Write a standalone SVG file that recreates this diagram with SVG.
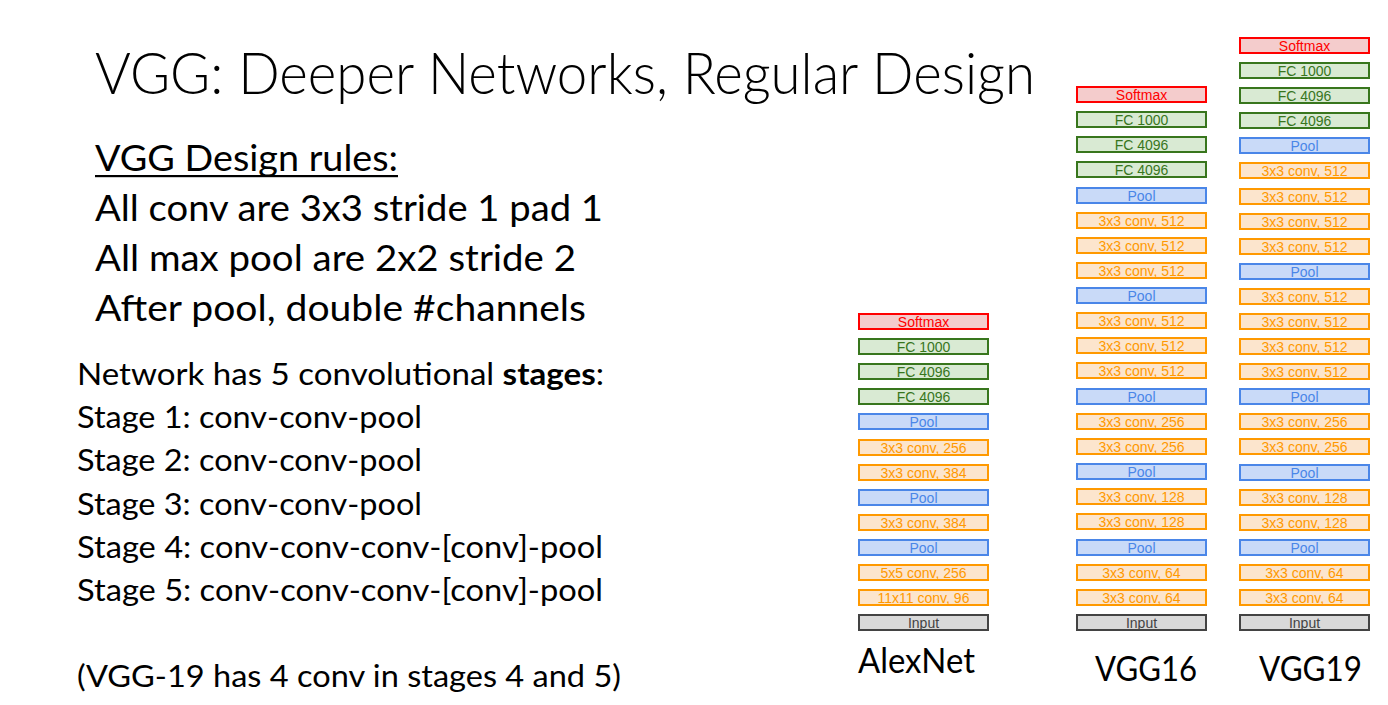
<svg xmlns="http://www.w3.org/2000/svg" width="1388" height="705" viewBox="0 0 1388 705">
<style>
.t{font-family:Lato,"Open Sans","Liberation Sans",sans-serif;fill:#000}
.title{font-size:57px;font-weight:300}
.body{font-size:37px}
.net{font-size:31px}
.lbl{font-size:34px}
.b rect{stroke-width:2}
.b text{font-family:"Liberation Sans",Arial,sans-serif;font-size:14px;text-anchor:middle}
.sm rect{fill:#f4cccc;stroke:#ff0000}.sm text{fill:#ff0000}
.fc rect{fill:#d9ead3;stroke:#38761d}.fc text{fill:#38761d}
.pl rect{fill:#c9daf8;stroke:#4a86e8}.pl text{fill:#4a86e8}
.cv rect{fill:#fce5cd;stroke:#ff9900}.cv text{fill:#ff9900}
.in rect{fill:#d9d9d9;stroke:#434343}.in text{fill:#434343}
</style>
<rect width="1388" height="705" fill="#fff"/>
<g id="text">
<text class="t title" x="95" y="94" textLength="940" lengthAdjust="spacingAndGlyphs">VGG: Deeper Networks, Regular Design</text>
<text class="t body" x="95" y="171" textLength="303" lengthAdjust="spacingAndGlyphs">VGG Design rules:</text>
<rect x="95" y="175" width="303" height="2.2" fill="#000"/>
<text class="t body" x="95" y="221" textLength="508" lengthAdjust="spacingAndGlyphs">All conv are 3x3 stride 1 pad 1</text>
<text class="t body" x="95" y="271" textLength="481" lengthAdjust="spacingAndGlyphs">All max pool are 2x2 stride 2</text>
<text class="t body" x="95" y="321" textLength="491" lengthAdjust="spacingAndGlyphs">After pool, double #channels</text>
<text class="t net" x="77" y="385" textLength="527" lengthAdjust="spacingAndGlyphs">Network has 5 convolutional <tspan font-weight="bold">stages</tspan>:</text>
<text class="t net" x="77" y="428" textLength="345" lengthAdjust="spacingAndGlyphs">Stage 1: conv-conv-pool</text>
<text class="t net" x="77" y="471" textLength="345" lengthAdjust="spacingAndGlyphs">Stage 2: conv-conv-pool</text>
<text class="t net" x="77" y="515" textLength="345" lengthAdjust="spacingAndGlyphs">Stage 3: conv-conv-pool</text>
<text class="t net" x="77" y="558" textLength="526" lengthAdjust="spacingAndGlyphs">Stage 4: conv-conv-conv-[conv]-pool</text>
<text class="t net" x="77" y="601" textLength="526" lengthAdjust="spacingAndGlyphs">Stage 5: conv-conv-conv-[conv]-pool</text>
<text class="t net" x="77" y="687" textLength="544" lengthAdjust="spacingAndGlyphs">(VGG-19 has 4 conv in stages 4 and 5)</text>
<text class="t lbl" x="858" y="673" textLength="117" lengthAdjust="spacingAndGlyphs">AlexNet</text>
<text class="t lbl" x="1095" y="681" textLength="102" lengthAdjust="spacingAndGlyphs">VGG16</text>
<text class="t lbl" x="1259" y="681" textLength="103" lengthAdjust="spacingAndGlyphs">VGG19</text>
</g>
<g id="alexnet" transform="translate(858,0)">
<g id="a0" class="b sm"><rect x="1" y="314" width="129" height="15"/><text x="65.5" y="326.5">Softmax</text></g>
<g id="a1" class="b fc"><rect x="1" y="339" width="129" height="15"/><text x="65.5" y="351.5">FC 1000</text></g>
<g id="a2" class="b fc"><rect x="1" y="364" width="129" height="15"/><text x="65.5" y="376.5">FC 4096</text></g>
<g id="a3" class="b fc"><rect x="1" y="389" width="129" height="15"/><text x="65.5" y="401.5">FC 4096</text></g>
<g id="a4" class="b pl"><rect x="1" y="414" width="129" height="15"/><text x="65.5" y="426.5">Pool</text></g>
<g id="a5" class="b cv"><rect x="1" y="440" width="129" height="15"/><text x="65.5" y="452.5">3x3 conv, 256</text></g>
<g id="a6" class="b cv"><rect x="1" y="465" width="129" height="15"/><text x="65.5" y="477.5">3x3 conv, 384</text></g>
<g id="a7" class="b pl"><rect x="1" y="490" width="129" height="15"/><text x="65.5" y="502.5">Pool</text></g>
<g id="a8" class="b cv"><rect x="1" y="515" width="129" height="15"/><text x="65.5" y="527.5">3x3 conv, 384</text></g>
<g id="a9" class="b pl"><rect x="1" y="540" width="129" height="15"/><text x="65.5" y="552.5">Pool</text></g>
<g id="a10" class="b cv"><rect x="1" y="565" width="129" height="15"/><text x="65.5" y="577.5">5x5 conv, 256</text></g>
<g id="a11" class="b cv"><rect x="1" y="590" width="129" height="15"/><text x="65.5" y="602.5">11x11 conv, 96</text></g>
<g id="a12" class="b in"><rect x="1" y="615" width="129" height="15"/><text x="65.5" y="627.5">Input</text></g>
</g>
<g id="vgg16" transform="translate(1076,0)">
<g id="v0" class="b sm"><rect x="1" y="87" width="129" height="15"/><text x="65.5" y="99.5">Softmax</text></g>
<g id="v1" class="b fc"><rect x="1" y="112" width="129" height="15"/><text x="65.5" y="124.5">FC 1000</text></g>
<g id="v2" class="b fc"><rect x="1" y="137" width="129" height="15"/><text x="65.5" y="149.5">FC 4096</text></g>
<g id="v3" class="b fc"><rect x="1" y="162" width="129" height="15"/><text x="65.5" y="174.5">FC 4096</text></g>
<g id="v4" class="b pl"><rect x="1" y="188" width="129" height="15"/><text x="65.5" y="200.5">Pool</text></g>
<g id="v5" class="b cv"><rect x="1" y="213" width="129" height="15"/><text x="65.5" y="225.5">3x3 conv, 512</text></g>
<g id="v6" class="b cv"><rect x="1" y="238" width="129" height="15"/><text x="65.5" y="250.5">3x3 conv, 512</text></g>
<g id="v7" class="b cv"><rect x="1" y="263" width="129" height="15"/><text x="65.5" y="275.5">3x3 conv, 512</text></g>
<g id="v8" class="b pl"><rect x="1" y="288" width="129" height="15"/><text x="65.5" y="300.5">Pool</text></g>
<g id="v9" class="b cv"><rect x="1" y="313" width="129" height="15"/><text x="65.5" y="325.5">3x3 conv, 512</text></g>
<g id="v10" class="b cv"><rect x="1" y="338" width="129" height="15"/><text x="65.5" y="350.5">3x3 conv, 512</text></g>
<g id="v11" class="b cv"><rect x="1" y="363" width="129" height="15"/><text x="65.5" y="375.5">3x3 conv, 512</text></g>
<g id="v12" class="b pl"><rect x="1" y="389" width="129" height="15"/><text x="65.5" y="401.5">Pool</text></g>
<g id="v13" class="b cv"><rect x="1" y="414" width="129" height="15"/><text x="65.5" y="426.5">3x3 conv, 256</text></g>
<g id="v14" class="b cv"><rect x="1" y="439" width="129" height="15"/><text x="65.5" y="451.5">3x3 conv, 256</text></g>
<g id="v15" class="b pl"><rect x="1" y="464" width="129" height="15"/><text x="65.5" y="476.5">Pool</text></g>
<g id="v16" class="b cv"><rect x="1" y="489" width="129" height="15"/><text x="65.5" y="501.5">3x3 conv, 128</text></g>
<g id="v17" class="b cv"><rect x="1" y="514" width="129" height="15"/><text x="65.5" y="526.5">3x3 conv, 128</text></g>
<g id="v18" class="b pl"><rect x="1" y="540" width="129" height="15"/><text x="65.5" y="552.5">Pool</text></g>
<g id="v19" class="b cv"><rect x="1" y="565" width="129" height="15"/><text x="65.5" y="577.5">3x3 conv, 64</text></g>
<g id="v20" class="b cv"><rect x="1" y="590" width="129" height="15"/><text x="65.5" y="602.5">3x3 conv, 64</text></g>
<g id="v21" class="b in"><rect x="1" y="615" width="129" height="15"/><text x="65.5" y="627.5">Input</text></g>
</g>
<g id="vgg19" transform="translate(1239,0)">
<g id="w0" class="b sm"><rect x="1" y="38" width="129" height="15"/><text x="65.5" y="50.5">Softmax</text></g>
<g id="w1" class="b fc"><rect x="1" y="63" width="129" height="15"/><text x="65.5" y="75.5">FC 1000</text></g>
<g id="w2" class="b fc"><rect x="1" y="88" width="129" height="15"/><text x="65.5" y="100.5">FC 4096</text></g>
<g id="w3" class="b fc"><rect x="1" y="113" width="129" height="15"/><text x="65.5" y="125.5">FC 4096</text></g>
<g id="w4" class="b pl"><rect x="1" y="138" width="129" height="15"/><text x="65.5" y="150.5">Pool</text></g>
<g id="w5" class="b cv"><rect x="1" y="163" width="129" height="15"/><text x="65.5" y="175.5">3x3 conv, 512</text></g>
<g id="w6" class="b cv"><rect x="1" y="189" width="129" height="15"/><text x="65.5" y="201.5">3x3 conv, 512</text></g>
<g id="w7" class="b cv"><rect x="1" y="214" width="129" height="15"/><text x="65.5" y="226.5">3x3 conv, 512</text></g>
<g id="w8" class="b cv"><rect x="1" y="239" width="129" height="15"/><text x="65.5" y="251.5">3x3 conv, 512</text></g>
<g id="w9" class="b pl"><rect x="1" y="264" width="129" height="15"/><text x="65.5" y="276.5">Pool</text></g>
<g id="w10" class="b cv"><rect x="1" y="289" width="129" height="15"/><text x="65.5" y="301.5">3x3 conv, 512</text></g>
<g id="w11" class="b cv"><rect x="1" y="314" width="129" height="15"/><text x="65.5" y="326.5">3x3 conv, 512</text></g>
<g id="w12" class="b cv"><rect x="1" y="339" width="129" height="15"/><text x="65.5" y="351.5">3x3 conv, 512</text></g>
<g id="w13" class="b cv"><rect x="1" y="364" width="129" height="15"/><text x="65.5" y="376.5">3x3 conv, 512</text></g>
<g id="w14" class="b pl"><rect x="1" y="389" width="129" height="15"/><text x="65.5" y="401.5">Pool</text></g>
<g id="w15" class="b cv"><rect x="1" y="414" width="129" height="15"/><text x="65.5" y="426.5">3x3 conv, 256</text></g>
<g id="w16" class="b cv"><rect x="1" y="439" width="129" height="15"/><text x="65.5" y="451.5">3x3 conv, 256</text></g>
<g id="w17" class="b pl"><rect x="1" y="465" width="129" height="15"/><text x="65.5" y="477.5">Pool</text></g>
<g id="w18" class="b cv"><rect x="1" y="490" width="129" height="15"/><text x="65.5" y="502.5">3x3 conv, 128</text></g>
<g id="w19" class="b cv"><rect x="1" y="515" width="129" height="15"/><text x="65.5" y="527.5">3x3 conv, 128</text></g>
<g id="w20" class="b pl"><rect x="1" y="540" width="129" height="15"/><text x="65.5" y="552.5">Pool</text></g>
<g id="w21" class="b cv"><rect x="1" y="565" width="129" height="15"/><text x="65.5" y="577.5">3x3 conv, 64</text></g>
<g id="w22" class="b cv"><rect x="1" y="590" width="129" height="15"/><text x="65.5" y="602.5">3x3 conv, 64</text></g>
<g id="w23" class="b in"><rect x="1" y="615" width="129" height="15"/><text x="65.5" y="627.5">Input</text></g>
</g>
<g id="connectors"/>
</svg>
